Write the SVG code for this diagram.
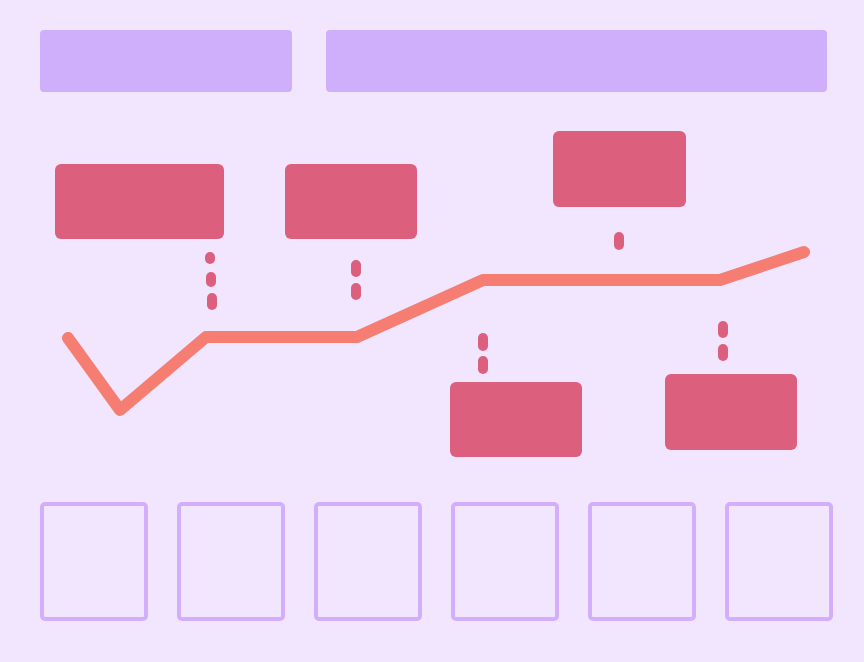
<svg xmlns="http://www.w3.org/2000/svg" width="864" height="662" viewBox="0 0 864 662">
  <style>
    .bar { fill: #CFAFFC; }
    .box { fill: #DC5F7E; }
    .slot { fill: none; stroke: #D3AEFC; stroke-width: 4; }
    .trend { fill: none; stroke: #F67D71; stroke-width: 12; stroke-linecap: round; stroke-linejoin: round; }
    .tick { fill: none; stroke: #DC5F7E; stroke-width: 10; stroke-linecap: round; }
  </style>
  <rect width="864" height="662" fill="#F1E6FE"/>
  <g id="header-left"><rect class="bar" x="40" y="30" width="252" height="62" rx="4"/></g>
  <g id="header-right"><rect class="bar" x="326" y="30" width="501" height="62" rx="4"/></g>

  <g id="box-1"><rect class="box" x="55" y="164" width="169" height="75" rx="6"/></g>
  <g id="box-2"><rect class="box" x="285" y="164" width="132" height="75" rx="6"/></g>
  <g id="box-3"><rect class="box" x="553" y="131" width="133" height="76" rx="6"/></g>
  <g id="box-4"><rect class="box" x="450" y="382" width="132" height="75" rx="6"/></g>
  <g id="box-5"><rect class="box" x="665" y="374" width="132" height="76" rx="6"/></g>

  <g id="connectors">
    <polyline class="trend" points="68,338 120,410 206,337 357,337 483,280 720,280 804,252"/>
    <line class="tick" x1="210" y1="257" x2="210" y2="259"/>
    <line class="tick" x1="211" y1="277" x2="211" y2="282"/>
    <line class="tick" x1="212" y1="298" x2="212" y2="305"/>
    <line class="tick" x1="356" y1="265" x2="356" y2="272"/>
    <line class="tick" x1="356" y1="288" x2="356" y2="295"/>
    <line class="tick" x1="619" y1="237" x2="619" y2="245"/>
    <line class="tick" x1="483" y1="338" x2="483" y2="346"/>
    <line class="tick" x1="483" y1="361" x2="483" y2="369"/>
    <line class="tick" x1="723" y1="326" x2="723" y2="333"/>
    <line class="tick" x1="723" y1="349" x2="723" y2="356"/>
  </g>

  <g id="slot-1"><rect class="slot" x="42" y="504" width="104" height="115" rx="3"/></g>
  <g id="slot-2"><rect class="slot" x="179" y="504" width="104" height="115" rx="3"/></g>
  <g id="slot-3"><rect class="slot" x="316" y="504" width="104" height="115" rx="3"/></g>
  <g id="slot-4"><rect class="slot" x="453" y="504" width="104" height="115" rx="3"/></g>
  <g id="slot-5"><rect class="slot" x="590" y="504" width="104" height="115" rx="3"/></g>
  <g id="slot-6"><rect class="slot" x="727" y="504" width="104" height="115" rx="3"/></g>
</svg>
